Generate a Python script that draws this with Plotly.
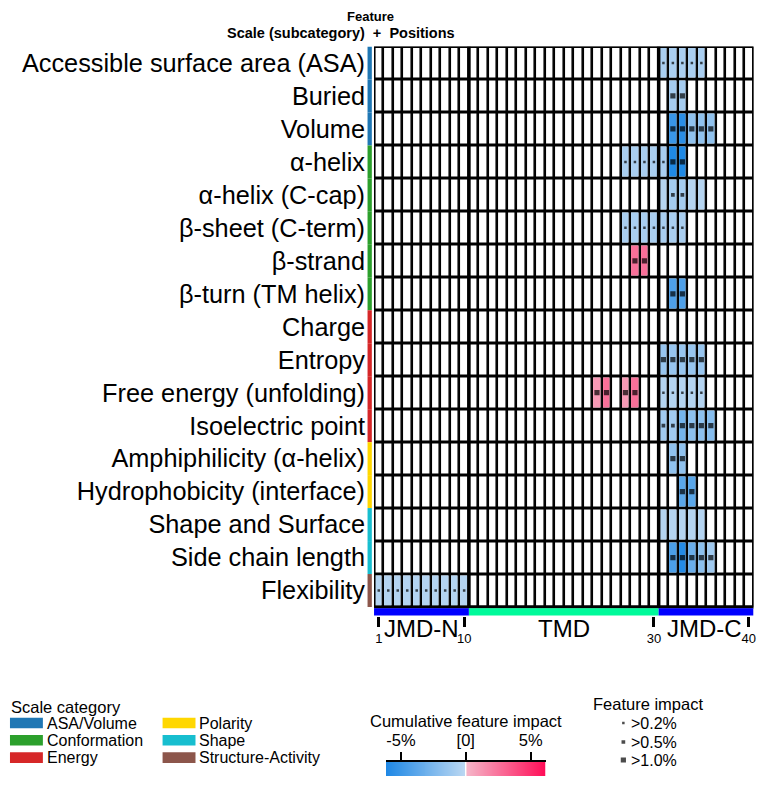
import numpy as np
import plotly.graph_objects as go

W, H = 769, 786
FONT = "Liberation Sans, Arial, sans-serif"

# ---------------- data ----------------
features = [
    "Accessible surface area (ASA)", "Buried", "Volume", "α-helix", "α-helix (C-cap)",
    "β-sheet (C-term)", "β-strand", "β-turn (TM helix)", "Charge", "Entropy",
    "Free energy (unfolding)", "Isoelectric point", "Amphiphilicity (α-helix)",
    "Hydrophobicity (interface)", "Shape and Surface", "Side chain length", "Flexibility",
]
feature_category = [
    "ASA/Volume", "ASA/Volume", "ASA/Volume",
    "Conformation", "Conformation", "Conformation", "Conformation", "Conformation",
    "Energy", "Energy", "Energy", "Energy",
    "Polarity", "Polarity",
    "Shape", "Shape",
    "Structure-Activity",
]
category_names = ["ASA/Volume", "Conformation", "Energy", "Polarity", "Shape", "Structure-Activity"]
category_colors = ["#1f77b4", "#2ca02c", "#d62728", "#ffd700", "#17becf", "#8c564b"]

# positions (1..40) with a non-zero cumulative feature impact, per feature
feat_positions = [
    [31, 32, 33, 34, 35],
    [32, 33],
    [32, 33, 34, 35, 36],
    [27, 28, 29, 30, 31, 32, 33],
    [31, 32, 33, 34, 35],
    [27, 28, 29, 30, 31, 32, 33],
    [28, 29],
    [32, 33],
    [],
    [31, 32, 33, 34, 35],
    [24, 25, 27, 28, 31, 32, 33, 34, 35],
    [31, 32, 33, 34, 35, 36],
    [32, 33],
    [33, 34],
    [31, 32, 33, 34, 35],
    [32, 33, 34, 35, 36],
    [1, 2, 3, 4, 5, 6, 7, 8, 9, 10],
]
# cumulative feature impact (%) of each cell
cum_impact = [
    [-0.7, -0.7, -0.7, -0.7, -0.7],
    [-0.9, -0.9],
    [-5.1, -5.7, -1.7, -1.7, -1.7],
    [-0.75, -0.75, -0.75, -0.75, -0.75, -6.1, -6.1],
    [-0.25, -0.95, -0.95, -0.25, -0.25],
    [-0.75, -0.75, -0.75, -0.75, -0.75, -0.75, -0.75],
    [2.6, 2.6],
    [-4.3, -4.3],
    [],
    [-1.45, -1.45, -1.45, -1.45, -1.45],
    [1.1, 2.6, 1.1, 2.6, -0.3, -0.3, -0.3, -0.3, -0.3],
    [-1.05, -1.05, -2.8, -1.85, -1.85, -2.1],
    [-1.7, -1.7],
    [-3.8, -3.8],
    [-0.3, -0.3, -0.3, -0.3, -0.3],
    [-4.4, -5.9, -3.2, -1.85, -1.1],
    [-0.3, -0.3, -0.3, -0.3, -0.3, -0.3, -0.3, -0.3, -0.3, -0.3],
]
# single feature impact (%) of each cell
feat_impact = [
    [0.3, 0.3, 0.3, 0.3, 0.3],
    [1.2, 1.2],
    [1.2, 1.2, 1.2, 1.2, 1.2],
    [0.3, 0.3, 0.3, 0.3, 0.3, 1.2, 1.2],
    [0.0, 0.7, 0.7, 0.0, 0.0],
    [0.3, 0.3, 0.3, 0.3, 0.3, 0.3, 0.3],
    [1.2, 1.2],
    [1.2, 1.2],
    [],
    [1.2, 1.2, 1.2, 1.2, 1.2],
    [1.2, 1.2, 1.2, 1.2, 0.3, 0.3, 0.3, 0.3, 0.3],
    [0.7, 0.7, 1.2, 1.2, 1.2, 1.2],
    [1.2, 1.2],
    [1.2, 1.2],
    [0.0, 0.0, 0.0, 0.0, 0.0],
    [1.2, 1.2, 1.2, 1.2, 1.2],
    [0.3, 0.3, 0.3, 0.3, 0.3, 0.3, 0.3, 0.3, 0.3, 0.3],
]
n_positions = 40
segments = ["JMD-N", "TMD", "JMD-C"]
segment_bounds = [(1, 10), (11, 30), (31, 40)]
segment_colors = ["blue", "mediumspringgreen", "blue"]
position_ticks = [1, 10, 30, 40]
impact_levels = [0.3, 0.7, 1.2]
impact_labels = [">0.2%", ">0.5%", ">1.0%"]
cbar_ticks = [-5, 0, 5]
cbar_ticktext = ["-5%", "[0]", "5%"]
VMAX = 6.15

BLUE_SCALE = [[0, "#1E88E5"], [1, "#BCD8F2"]]
PINK_SCALE = [[0, "#F5B8CA"], [1, "#FF0D57"]]


def px_x(x):
    return x / W


def px_y(y):
    return 1 - y / H


def marker_size(v):
    if v > 1.0:
        return 5.2
    if v > 0.5:
        return 3.7
    if v > 0.2:
        return 2.5
    return 0


n_rows = len(features)
rows = list(range(n_rows))
positions = list(range(1, n_positions + 1))

z_base = [[0] * n_positions for _ in rows]
z_neg = [[None] * n_positions for _ in rows]
z_pos = [[None] * n_positions for _ in rows]
dot_x, dot_y, dot_s = [], [], []
for r in rows:
    for p, c, f in zip(feat_positions[r], cum_impact[r], feat_impact[r]):
        if c < 0:
            z_neg[r][p - 1] = c
        elif c > 0:
            z_pos[r][p - 1] = c
        if f > 0.2:
            dot_x.append(p)
            dot_y.append(r)
            dot_s.append(marker_size(f))

fig = go.Figure()
GX, GY = 2.6, 3
fig.add_trace(go.Heatmap(x=positions, y=rows, z=z_base, colorscale=[[0, "white"], [1, "white"]],
                         showscale=False, xgap=GX, ygap=GY, hoverinfo="skip"))
fig.add_trace(go.Heatmap(x=positions, y=rows, z=z_neg, colorscale=BLUE_SCALE, zmin=-VMAX, zmax=0,
                         showscale=False, xgap=GX, ygap=GY, hoverinfo="skip"))
fig.add_trace(go.Heatmap(x=positions, y=rows, z=z_pos, colorscale=PINK_SCALE, zmin=0, zmax=VMAX,
                         showscale=False, xgap=GX, ygap=GY, hoverinfo="skip"))
fig.add_trace(go.Scatter(x=dot_x, y=dot_y, mode="markers",
                         marker=dict(symbol="square", color="black", size=dot_s, line=dict(width=0)),
                         hoverinfo="skip", showlegend=False))

# ---- colorbar strip (own axes) ----
nb = 80
neg_edges = np.linspace(-VMAX, -0.05, nb + 1)
pos_edges = np.linspace(0.05, VMAX, nb + 1)
fig.add_trace(go.Heatmap(x=neg_edges, y=[0, 1], z=[list((neg_edges[:-1] + neg_edges[1:]) / 2)],
                         colorscale=BLUE_SCALE, zmin=-VMAX, zmax=0, showscale=False,
                         xaxis="x2", yaxis="y2", hoverinfo="skip"))
fig.add_trace(go.Heatmap(x=pos_edges, y=[0, 1], z=[list((pos_edges[:-1] + pos_edges[1:]) / 2)],
                         colorscale=PINK_SCALE, zmin=0, zmax=VMAX, showscale=False,
                         xaxis="x2", yaxis="y2", hoverinfo="skip"))

# ---- feature impact legend markers (own axes, pixel units) ----
leg_y = [723, 742, 760]
fig.add_trace(go.Scatter(x=[625] * 3, y=leg_y, mode="markers",
                         marker=dict(symbol="square", color="black",
                                     size=[marker_size(v) for v in impact_levels], line=dict(width=0)),
                         xaxis="x3", yaxis="y3", hoverinfo="skip", showlegend=False))

row_h = (607 - 46.5) / 17
bar_h = 8.5 / row_h
shapes = []
# black background for grid lines
shapes.append(dict(type="rect", xref="x", yref="y", x0=0.5, x1=40.5, y0=-0.5, y1=16.5,
                   fillcolor="black", line=dict(width=0), layer="below"))
# outer border
shapes.append(dict(type="rect", xref="x", yref="y", x0=0.5, x1=40.5, y0=-0.5, y1=16.5,
                   fillcolor="rgba(0,0,0,0)", line=dict(color="black", width=3)))
# thick TMD boundaries
for xb in (10.5, 30.5):
    shapes.append(dict(type="line", xref="x", yref="y", x0=xb, x1=xb, y0=-0.5, y1=16.5,
                       line=dict(color="black", width=3.5)))
# segment bar
for (a, b), col in zip(segment_bounds, segment_colors):
    shapes.append(dict(type="rect", xref="x", yref="y", x0=a - 0.5, x1=b + 0.5,
                       y0=16.5 + 1.2 / row_h, y1=16.5 + bar_h, fillcolor=col, line=dict(width=0)))
# category colour bar
for r, cat in enumerate(feature_category):
    col = category_colors[category_names.index(cat)]
    shapes.append(dict(type="rect", xref="paper", yref="y", x0=px_x(368.5), x1=px_x(372.8),
                       y0=r - 0.5, y1=r + 0.5, fillcolor=col, line=dict(width=0)))
# scale category legend patches
leg_cols_x = [10, 163]
leg_rows_y = [723, 740.3, 757.6]
for i, (name, col) in enumerate(zip(category_names, category_colors)):
    cx = leg_cols_x[i // 3]
    cy = leg_rows_y[i % 3]
    shapes.append(dict(type="rect", xref="paper", yref="paper", x0=px_x(cx), x1=px_x(cx + 33),
                       y0=px_y(cy + 5.3), y1=px_y(cy - 5.3), fillcolor=col, line=dict(width=0)))


def ann(text, x, y, size, xanchor="center", xref="paper"):
    return dict(text=text, x=x, y=px_y(y), xref=xref, yref="paper", xanchor=xanchor,
                yanchor="middle", showarrow=False, font=dict(size=size, family=FONT, color="black"))


annotations = []
annotations.append(ann("<b>Feature</b>", px_x(371), 17, 13))
annotations.append(ann("<b>Scale (subcategory)\u00a0\u00a0+\u00a0\u00a0Positions</b>", px_x(341.5), 33, 14.5))
seg_label_x = [5.5, 20.5, 35.3]
for name, sx in zip(segments, seg_label_x):
    annotations.append(ann(name, sx, 628, 24, xref="x"))
annotations.append(ann("Scale category", px_x(9), 707, 16.5, xanchor="left"))
for i, name in enumerate(category_names):
    cx = leg_cols_x[i // 3]
    cy = leg_rows_y[i % 3]
    annotations.append(ann(name, px_x(cx + 35), cy, 16, xanchor="left"))
annotations.append(ann("Feature impact", px_x(650), 704, 16.5))
for lab, yy in zip(impact_labels, leg_y):
    annotations.append(ann(lab, px_x(631), yy, 16, xanchor="left"))
annotations.append(ann("Cumulative feature impact", px_x(467), 721, 16.5))

fig.update_layout(
    width=W, height=H, margin=dict(l=0, r=0, t=0, b=0),
    paper_bgcolor="white", plot_bgcolor="rgba(0,0,0,0)",
    font=dict(family=FONT, color="black"),
    showlegend=False,
    shapes=shapes, annotations=annotations,
    xaxis=dict(domain=[px_x(375), px_x(755.5)], range=[0.5, 40.5], tickvals=position_ticks,
               ticktext=[str(t) for t in position_ticks], ticks="outside", ticklen=10, tickwidth=3,
               tickcolor="black", tickfont=dict(size=13, color="black"), showgrid=False,
               zeroline=False, showline=False, anchor="y"),
    yaxis=dict(domain=[px_y(616), px_y(46.5)], range=[16.5 + 9 / row_h, -0.5], tickvals=rows,
               ticktext=features, ticks="", tickfont=dict(size=25.3, color="black"), showgrid=False,
               zeroline=False, showline=False, ticklabelstandoff=8, anchor="x"),
    xaxis2=dict(domain=[px_x(387), px_x(547)], range=[-VMAX, VMAX], side="top", anchor="y2",
                tickvals=cbar_ticks, ticktext=cbar_ticktext, ticks="outside", ticklen=8, tickwidth=1.5,
                tickcolor="black", tickfont=dict(size=16.5, color="black"), showline=True,
                linecolor="black", linewidth=1.5, showgrid=False, zeroline=False),
    yaxis2=dict(domain=[px_y(776), px_y(762)], range=[0, 1], anchor="x2", visible=False),
    xaxis3=dict(domain=[px_x(600), px_x(720)], range=[600, 720], anchor="y3", visible=False),
    yaxis3=dict(domain=[px_y(780), px_y(700)], range=[780, 700], anchor="x3", visible=False),
)

fig.write_html("out.html")
